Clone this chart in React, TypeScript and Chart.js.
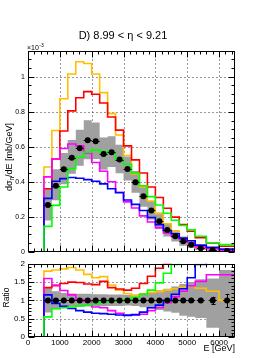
import React, { useEffect, useRef } from "react";
import { Chart, registerables } from "chart.js";
Chart.register(...registerables);

// ---------- data ----------
const BIN_EDGES = [500, 750, 1000, 1250, 1500, 1750, 2000, 2250, 2500, 2750, 3000, 3250, 3500, 3750, 4000, 4250, 4500, 4750, 5000, 5250, 5600, 6000, 6500];
const GREEN_LOW_EDGE = 0; // green histogram also has an empty [0,500] bin

// upper panel, units of 1e-3 mb/GeV
const DATA = [0.267, 0.377, 0.471, 0.537, 0.591, 0.637, 0.631, 0.558, 0.569, 0.527, 0.473, 0.397, 0.318, 0.236, 0.175, 0.124, 0.089, 0.060, 0.040, 0.020, 0.010, 0.005];
const DATA_ERR = [0.008, 0.009, 0.01, 0.01, 0.01, 0.011, 0.011, 0.01, 0.01, 0.01, 0.009, 0.008, 0.007, 0.006, 0.005, 0.004, 0.003, 0.003, 0.002, 0.002, 0.001, 0.001];
const BAND_HI = [0.363, 0.471, 0.565, 0.639, 0.697, 0.752, 0.738, 0.653, 0.660, 0.611, 0.544, 0.461, 0.382, 0.290, 0.224, 0.164, 0.123, 0.087, 0.060, 0.032, 0.016, 0.009];
const BAND_LO = [0.179, 0.294, 0.386, 0.446, 0.491, 0.529, 0.530, 0.469, 0.484, 0.448, 0.407, 0.337, 0.258, 0.184, 0.130, 0.087, 0.059, 0.035, 0.022, 0.010, 0.003, 0.0];
const ORANGE = [0.484, 0.693, 0.874, 1.016, 1.086, 1.076, 1.016, 0.909, 0.789, 0.667, 0.55, 0.445, 0.37, 0.29, 0.217, 0.16, 0.117, 0.08, 0.053, 0.026, 0.013, 0.005];
const RED = [0.36, 0.53, 0.69, 0.805, 0.88, 0.915, 0.90, 0.85, 0.77, 0.695, 0.605, 0.525, 0.45, 0.37, 0.31, 0.249, 0.198, 0.155, 0.117, 0.08, 0.05, 0.032];
const MAGENTA = [0.428, 0.53, 0.59, 0.616, 0.606, 0.565, 0.51, 0.46, 0.40, 0.34, 0.285, 0.25, 0.205, 0.17, 0.137, 0.108, 0.088, 0.07, 0.052, 0.028, 0.017, 0.007];
const BLUE = [0.305, 0.403, 0.418, 0.424, 0.42, 0.412, 0.403, 0.388, 0.36, 0.337, 0.296, 0.271, 0.236, 0.196, 0.155, 0.122, 0.103, 0.078, 0.063, 0.038, 0.025, 0.015];
const GREEN = [0, 0.145, 0.265, 0.37, 0.475, 0.54, 0.569, 0.582, 0.572, 0.563, 0.53, 0.50, 0.45, 0.377, 0.315, 0.267, 0.22, 0.18, 0.15, 0.125, 0.089, 0.052, 0.041];

// ratio panel
const R_DATA = [1, 1, 1, 1, 1, 1, 1, 1, 1, 1, 1, 1, 1, 1, 1, 1, 1, 1, 1, 1, 1, 1];
const R_DATA_ERR = [0.03, 0.025, 0.02, 0.02, 0.02, 0.02, 0.02, 0.02, 0.02, 0.02, 0.02, 0.02, 0.02, 0.025, 0.03, 0.03, 0.035, 0.04, 0.05, 0.07, 0.10, 0.18];
const R_BAND_HI = [1.36, 1.25, 1.20, 1.19, 1.18, 1.18, 1.17, 1.17, 1.16, 1.16, 1.15, 1.16, 1.20, 1.23, 1.28, 1.32, 1.38, 1.45, 1.50, 1.58, 1.60, 1.83];
const R_BAND_LO = [0.67, 0.78, 0.82, 0.83, 0.83, 0.83, 0.84, 0.84, 0.85, 0.85, 0.86, 0.85, 0.81, 0.78, 0.74, 0.70, 0.66, 0.58, 0.55, 0.52, 0.25, 0.0];
const R_ORANGE = [1.80, 1.83, 1.86, 1.90, 1.83, 1.71, 1.62, 1.65, 1.42, 1.28, 1.18, 1.13, 1.17, 1.22, 1.24, 1.28, 1.32, 1.36, 1.40, 1.33, 1.25, 1.00];
const R_RED = [1.35, 1.40, 1.46, 1.50, 1.49, 1.45, 1.43, 1.52, 1.35, 1.31, 1.28, 1.33, 1.46, 1.66, 1.88, 2.0, 3, 3, 3, 3, 3, 3];
const R_MAGENTA = [1.60, 1.42, 1.27, 1.15, 1.02, 0.97, 0.82, 0.80, 0.72, 0.65, 0.60, 0.60, 0.62, 0.72, 0.80, 0.94, 1.10, 1.25, 1.40, 1.52, 1.70, 1.70];
const R_BLUE = [1.15, 0.92, 0.84, 0.78, 0.72, 0.68, 0.65, 0.64, 0.62, 0.60, 0.59, 0.61, 0.68, 0.80, 0.87, 1.00, 1.17, 1.32, 1.62, 1.98, 3, 3];
const R_GREEN = [0, 0.55, 0.77, 0.80, 0.82, 0.85, 0.88, 0.91, 0.95, 0.97, 0.99, 1.02, 1.08, 1.17, 1.28, 1.48, 1.74, 1.98, 3, 3, 3, 3, 3];

const X_ERR = 125; // GeV, horizontal marker bar half-width
const X_TICKS = [0, 1000, 2000, 3000, 4000, 5000, 6000];
const Y_TICKS_TOP = [0, 0.2, 0.4, 0.6, 0.8, 1];
const Y_TICKS_RATIO = [0, 0.5, 1, 1.5, 2];

const TITLE = "D) 8.99 < η < 9.21";

// ---------- styles ----------
const FONT = "'Liberation Sans', Arial, Helvetica, sans-serif";
const C_ORANGE = "#ffbf00";
const C_RED = "#ff0000";
const C_MAGENTA = "#ff00ff";
const C_BLUE = "#0000ff";
const C_GREEN = "#00ff00";
const C_BAND = "#a0a0a0";

type Pt = { x: number; y: number };

function stepLine(edges: number[], vals: number[]): Pt[] {
  const pts: Pt[] = [{ x: edges[0], y: 0 }];
  vals.forEach((v, i) => {
    pts.push({ x: edges[i], y: v });
    pts.push({ x: edges[i + 1], y: v });
  });
  return pts;
}
function bandLine(edges: number[], vals: number[]): Pt[] {
  const pts: Pt[] = [];
  vals.forEach((v, i) => {
    pts.push({ x: edges[i], y: v });
    pts.push({ x: edges[i + 1], y: v });
  });
  return pts;
}
const CENTERS = BIN_EDGES.slice(0, -1).map((e, i) => (e + BIN_EDGES[i + 1]) / 2);
const GREEN_EDGES = [GREEN_LOW_EDGE, ...BIN_EDGES];

function lineDs(data: Pt[], color: string) {
  return {
    type: "line" as const,
    data,
    borderColor: color,
    borderWidth: 1.6,
    pointRadius: 0,
    pointHoverRadius: 0,
    fill: false,
    tension: 0,
  };
}

function buildDatasets(d: number[], hi: number[], lo: number[], o: number[], r: number[], m: number[], b: number[], g: number[]) {
  return [
    {
      type: "line" as const,
      data: CENTERS.map((c, i) => ({ x: c, y: d[i] })),
      showLine: false,
      pointRadius: 3,
      pointHoverRadius: 3,
      pointBackgroundColor: "#000",
      pointBorderColor: "#000",
      pointBorderWidth: 0,
    },
    lineDs(stepLine(GREEN_EDGES, g), C_GREEN),
    lineDs(stepLine(BIN_EDGES, b), C_BLUE),
    lineDs(stepLine(BIN_EDGES, m), C_MAGENTA),
    lineDs(stepLine(BIN_EDGES, r), C_RED),
    lineDs(stepLine(BIN_EDGES, o), C_ORANGE),
    {
      type: "line" as const,
      data: bandLine(BIN_EDGES, lo),
      borderWidth: 0,
      borderColor: "rgba(0,0,0,0)",
      pointRadius: 0,
      fill: false,
      tension: 0,
    },
    {
      type: "line" as const,
      data: bandLine(BIN_EDGES, hi),
      borderWidth: 0,
      borderColor: "rgba(0,0,0,0)",
      backgroundColor: C_BAND,
      pointRadius: 0,
      fill: "-1",
      tension: 0,
    },
  ];
}

type PanelCfg = {
  xMajor: number; xMinor: number; yMajor: number; yMinor: number;
  gridX: number[]; gridY: number[];
  majorLen: number; minorLen: number;
  xs: number[]; ys: number[]; yErr: number[];
  drawText: (ctx: CanvasRenderingContext2D) => void;
};

function panelPlugin(cfg: PanelCfg) {
  return {
    id: "panel",
    beforeDatasetsDraw(chart: any) {
      const { ctx, chartArea: a, scales } = chart;
      ctx.save();
      ctx.strokeStyle = "rgba(0,0,0,0.4)";
      ctx.lineWidth = 1;
      ctx.setLineDash([2, 2]);
      ctx.beginPath();
      for (const v of cfg.gridX) {
        const px = Math.round(scales.x.getPixelForValue(v)) + 0.5;
        ctx.moveTo(px, a.top);
        ctx.lineTo(px, a.bottom);
      }
      for (const v of cfg.gridY) {
        const py = Math.round(scales.y.getPixelForValue(v)) + 0.5;
        ctx.moveTo(a.left, py);
        ctx.lineTo(a.right, py);
      }
      ctx.stroke();
      ctx.restore();
    },
    beforeDatasetDraw(chart: any, args: any) {
      if (args.index !== 0) return;
      const { ctx, chartArea: a, scales } = chart;
      ctx.save();
      ctx.beginPath();
      ctx.rect(a.left, a.top, a.right - a.left, a.bottom - a.top);
      ctx.clip();
      ctx.strokeStyle = "#000";
      ctx.lineWidth = 1;
      ctx.beginPath();
      cfg.xs.forEach((xv, i) => {
        const py = Math.round(scales.y.getPixelForValue(cfg.ys[i])) + 0.5;
        const x0 = scales.x.getPixelForValue(xv - X_ERR);
        const x1 = scales.x.getPixelForValue(xv + X_ERR);
        ctx.moveTo(x0, py);
        ctx.lineTo(x1, py);
        const px = Math.round(scales.x.getPixelForValue(xv)) + 0.5;
        const y0 = scales.y.getPixelForValue(cfg.ys[i] - cfg.yErr[i]);
        const y1 = scales.y.getPixelForValue(cfg.ys[i] + cfg.yErr[i]);
        ctx.moveTo(px, y0);
        ctx.lineTo(px, y1);
        if (Math.abs(y0 - y1) / 2 > 3.5) {
          ctx.moveTo(px - 2, Math.round(y0) + 0.5);
          ctx.lineTo(px + 2, Math.round(y0) + 0.5);
          ctx.moveTo(px - 2, Math.round(y1) + 0.5);
          ctx.lineTo(px + 2, Math.round(y1) + 0.5);
        }
      });
      ctx.stroke();
      ctx.restore();
    },
    afterDatasetsDraw(chart: any) {
      const { ctx, chartArea: a, scales } = chart;
      ctx.save();
      ctx.strokeStyle = "#000";
      ctx.lineWidth = 1;
      ctx.setLineDash([]);
      const L = Math.round(a.left) + 0.5;
      const R = Math.round(a.right) - 0.5;
      const T = Math.round(a.top) + 0.5;
      const B = Math.round(a.bottom) - 0.5;
      ctx.strokeRect(L, T, R - L, B - T);
      ctx.beginPath();
      const xs = scales.x;
      const nx = Math.floor((xs.max - xs.min) / cfg.xMinor + 1e-6);
      for (let k = 0; k <= nx; k++) {
        const v = xs.min + k * cfg.xMinor;
        const q = v / cfg.xMajor;
        const len = Math.abs(q - Math.round(q)) < 1e-6 ? cfg.majorLen : cfg.minorLen;
        const px = Math.round(xs.getPixelForValue(v)) + 0.5;
        ctx.moveTo(px, B);
        ctx.lineTo(px, B - len);
        ctx.moveTo(px, T);
        ctx.lineTo(px, T + len);
      }
      const ys = scales.y;
      const ny = Math.floor((ys.max - ys.min) / cfg.yMinor + 1e-6);
      for (let k = 0; k <= ny; k++) {
        const v = ys.min + k * cfg.yMinor;
        const q = v / cfg.yMajor;
        const len = Math.abs(q - Math.round(q)) < 1e-6 ? cfg.majorLen : cfg.minorLen;
        const py = Math.round(ys.getPixelForValue(v)) + 0.5;
        ctx.moveTo(L, py);
        ctx.lineTo(L + len, py);
        ctx.moveTo(R, py);
        ctx.lineTo(R - len, py);
      }
      ctx.stroke();
      ctx.restore();
    },
    afterDraw(chart: any) {
      const ctx = chart.ctx as CanvasRenderingContext2D;
      ctx.save();
      ctx.fillStyle = "#000";
      cfg.drawText(ctx);
      ctx.restore();
    },
  };
}

const fmt = (v: number) => String(Math.round(v * 100) / 100);

function makeOptions(pad: any, yMax: number, yTicks: number[], yFont: number, xLabels: boolean) {
  return {
    animation: false as const,
    responsive: false,
    maintainAspectRatio: false,
    devicePixelRatio: 1,
    events: [] as any[],
    layout: { padding: pad },
    plugins: { legend: { display: false }, tooltip: { enabled: false }, title: { display: false } },
    scales: {
      x: {
        type: "linear" as const,
        min: 0,
        max: 6500,
        grid: { display: false, drawTicks: false },
        border: { display: false },
        afterBuildTicks: (s: any) => { s.ticks = X_TICKS.map((v) => ({ value: v })); },
        ticks: {
          display: xLabels,
          autoSkip: false,
          maxRotation: 0,
          padding: 1,
          color: "#000",
          font: { family: FONT, size: 8 },
          callback: (v: any) => String(v),
        },
        afterFit: (s: any) => { s.height = xLabels ? 12 : 0; },
      },
      y: {
        type: "linear" as const,
        min: 0,
        max: yMax,
        grid: { display: false, drawTicks: false },
        border: { display: false },
        afterBuildTicks: (s: any) => { s.ticks = yTicks.map((v) => ({ value: v })); },
        ticks: {
          autoSkip: false,
          padding: 3,
          color: "#000",
          font: { family: FONT, size: yFont },
          callback: (v: any) => fmt(Number(v)),
        },
        afterFit: (s: any) => { s.width = 28; },
      },
    },
  };
}

function drawRotated(ctx: CanvasRenderingContext2D, cx: number, cy: number, parts: { t: string; size: number; dy: number }[]) {
  ctx.save();
  ctx.translate(cx, cy);
  ctx.rotate(-Math.PI / 2);
  ctx.textAlign = "left";
  ctx.textBaseline = "alphabetic";
  let total = 0;
  const widths = parts.map((p) => {
    ctx.font = `${p.size}px ${FONT}`;
    const w = ctx.measureText(p.t).width;
    total += w;
    return w;
  });
  let x = -total / 2;
  parts.forEach((p, i) => {
    ctx.font = `${p.size}px ${FONT}`;
    ctx.fillText(p.t, x, 3 + p.dy);
    x += widths[i];
  });
  ctx.restore();
}

export default function App() {
  const topRef = useRef<HTMLCanvasElement>(null);
  const botRef = useRef<HTMLCanvasElement>(null);

  useEffect(() => {
    const TOP_OFF = 0;
    const BOT_OFF = 256;

    const topChart = new Chart(topRef.current as HTMLCanvasElement, {
      type: "line",
      data: { datasets: buildDatasets(DATA, BAND_HI, BAND_LO, ORANGE, RED, MAGENTA, BLUE, GREEN) as any },
      options: makeOptions({ left: 0, right: 42, top: 51 - TOP_OFF, bottom: 5 }, 1.147, Y_TICKS_TOP, 7, false) as any,
      plugins: [
        panelPlugin({
          xMajor: 1000, xMinor: 200, yMajor: 0.2, yMinor: 0.05,
          gridX: [1000, 2000, 3000, 4000, 5000, 6000],
          gridY: [0.2, 0.4, 0.6, 0.8, 1.0],
          majorLen: 6, minorLen: 3,
          xs: CENTERS, ys: DATA, yErr: DATA_ERR,
          drawText: (ctx) => {
            ctx.font = `11px ${FONT}`;
            ctx.textAlign = "center";
            ctx.textBaseline = "alphabetic";
            ctx.fillText(TITLE, 123, 39);
            ctx.textAlign = "left";
            ctx.font = `7px ${FONT}`;
            ctx.fillText("×10", 27, 50);
            const w = ctx.measureText("×10").width;
            ctx.font = `5px ${FONT}`;
            ctx.fillText("-3", 27 + w + 0.5, 47);
            drawRotated(ctx, 9, 157, [
              { t: "dσ", size: 9, dy: 0 },
              { t: "n", size: 6.5, dy: 2 },
              { t: "/dE [mb/GeV]", size: 9, dy: 0 },
            ]);
          },
        }) as any,
      ],
    });

    const botChart = new Chart(botRef.current as HTMLCanvasElement, {
      type: "line",
      data: { datasets: buildDatasets(R_DATA, R_BAND_HI, R_BAND_LO, R_ORANGE, R_RED, R_MAGENTA, R_BLUE, R_GREEN) as any },
      options: makeOptions({ left: 0, right: 42, top: 261 - BOT_OFF, bottom: 102 - (337 - BOT_OFF) - 12 }, 2, Y_TICKS_RATIO, 8, true) as any,
      plugins: [
        panelPlugin({
          xMajor: 1000, xMinor: 200, yMajor: 0.5, yMinor: 0.1,
          gridX: [1000, 2000, 3000, 4000, 5000, 6000],
          gridY: [0.5, 1.0, 1.5],
          majorLen: 6, minorLen: 3,
          xs: CENTERS, ys: R_DATA, yErr: R_DATA_ERR,
          drawText: (ctx) => {
            ctx.font = `9px ${FONT}`;
            ctx.textAlign = "right";
            ctx.textBaseline = "alphabetic";
            ctx.fillText("E [GeV]", 235, 351 - BOT_OFF);
            drawRotated(ctx, 5.5, 297.5 - BOT_OFF, [{ t: "Ratio", size: 8.5, dy: 0 }]);
          },
        }) as any,
      ],
    });

    return () => {
      topChart.destroy();
      botChart.destroy();
    };
  }, []);

  return (
    <div style={{ position: "fixed", left: 0, top: 0, width: 277, height: 358, background: "#fff" }}>
      <canvas ref={topRef} width={277} height={259} style={{ position: "absolute", left: 0, top: 0, width: 277, height: 259 }} />
      <canvas ref={botRef} width={277} height={102} style={{ position: "absolute", left: 0, top: 256, width: 277, height: 102 }} />
    </div>
  );
}
